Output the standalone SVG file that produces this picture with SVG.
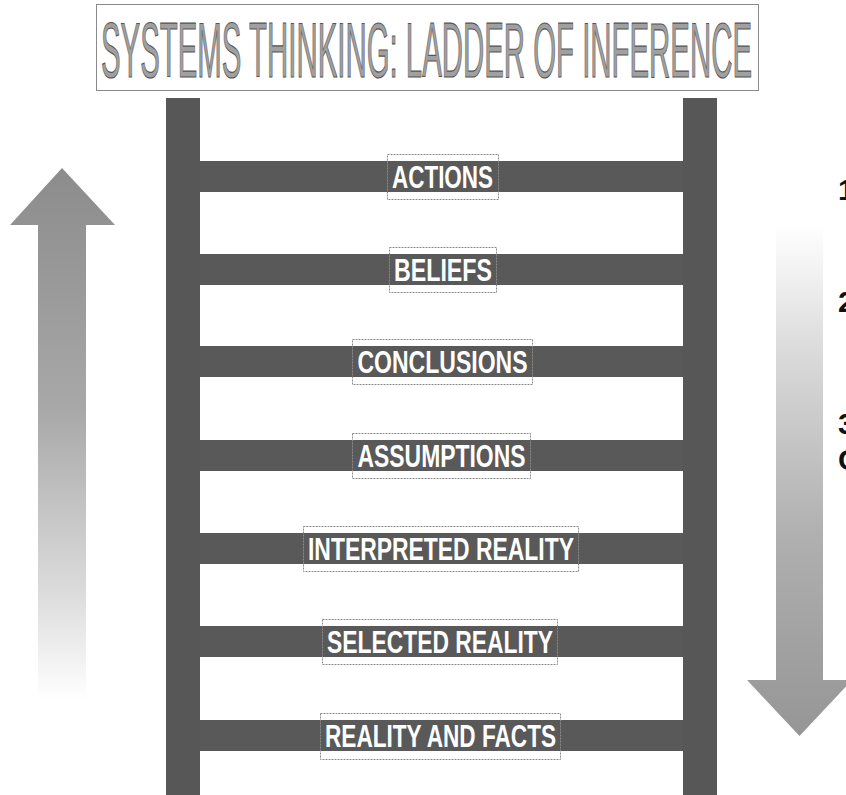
<svg xmlns="http://www.w3.org/2000/svg" width="846" height="795" viewBox="0 0 846 795">
  <defs>
    <linearGradient id="upGrad" gradientUnits="userSpaceOnUse" x1="0" y1="170" x2="0" y2="700">
      <stop offset="0" stop-color="#8c8c8c"/>
      <stop offset="0.45" stop-color="#a8a8a8"/>
      <stop offset="0.8" stop-color="#dcdcdc"/>
      <stop offset="1" stop-color="#ffffff"/>
    </linearGradient>
    <linearGradient id="downGrad" gradientUnits="userSpaceOnUse" x1="0" y1="225" x2="0" y2="740">
      <stop offset="0" stop-color="#ffffff"/>
      <stop offset="0.25" stop-color="#dadada"/>
      <stop offset="0.6" stop-color="#b0b0b0"/>
      <stop offset="1" stop-color="#959595"/>
    </linearGradient>
    <style>
      .rail { fill: #575757; }
      .rung { fill: #595959; }
      .lblbox { fill: none; stroke: #8a8a8a; stroke-width: 1; stroke-dasharray: 2 1; }
      .lbl { font-family: "Liberation Sans Narrow", "Liberation Sans", Arial, sans-serif; font-weight: bold; font-size: 32px; fill: #ffffff; text-anchor: middle; }
      .title { font-family: "Liberation Sans Narrow", "Liberation Sans", Arial, sans-serif; font-size: 78px; fill: #a0a0a0; stroke: #555555; stroke-width: 1.2; }
      .edge { font-family: "Liberation Sans", Arial, sans-serif; font-weight: bold; font-size: 30px; fill: #111111; }
    </style>
  </defs>
  <rect width="846" height="795" fill="#ffffff"/>

  <g id="title">
    <rect x="96.5" y="4.5" width="662" height="86" fill="#ffffff" stroke="#8a8a8a" stroke-width="1"/>
    <text class="title" x="101" y="77" textLength="651" lengthAdjust="spacingAndGlyphs">SYSTEMS THINKING: LADDER OF INFERENCE</text>
  </g>

  <g id="arrow-up">
    <path d="M62,168 L115,225 L86,225 L86,698 L38,698 L38,225 L10,225 Z" fill="url(#upGrad)"/>
  </g>
  <g id="arrow-down">
    <path d="M776,226 L823,226 L823,680 L852,680 L799.5,736 L747,680 L776,680 Z" fill="url(#downGrad)"/>
  </g>

  <g id="ladder">
    <rect class="rail" x="166" y="98" width="34" height="697"/>
    <rect class="rail" x="683" y="98" width="34" height="697"/>
    <rect class="rung" x="200" y="161" width="483" height="31"/>
    <rect class="rung" x="200" y="254" width="483" height="31"/>
    <rect class="rung" x="200" y="346" width="483" height="31"/>
    <rect class="rung" x="200" y="440" width="483" height="31"/>
    <rect class="rung" x="200" y="533" width="483" height="31"/>
    <rect class="rung" x="200" y="626" width="483" height="31"/>
    <rect class="rung" x="200" y="720" width="483" height="31"/>
  </g>

  <g id="actions">
    <rect class="lblbox" x="387.5" y="154.5" width="111" height="45"/>
    <text class="lbl" x="442.5" y="188" textLength="101" lengthAdjust="spacingAndGlyphs">ACTIONS</text>
  </g>
  <g id="beliefs">
    <rect class="lblbox" x="389.5" y="247.5" width="107" height="45"/>
    <text class="lbl" x="443" y="281" textLength="98" lengthAdjust="spacingAndGlyphs">BELIEFS</text>
  </g>
  <g id="conclusions">
    <rect class="lblbox" x="352.5" y="339.5" width="180" height="45"/>
    <text class="lbl" x="442.5" y="373" textLength="170" lengthAdjust="spacingAndGlyphs">CONCLUSIONS</text>
  </g>
  <g id="assumptions">
    <rect class="lblbox" x="352.5" y="433.5" width="178" height="45"/>
    <text class="lbl" x="441.5" y="467" textLength="168" lengthAdjust="spacingAndGlyphs">ASSUMPTIONS</text>
  </g>
  <g id="interpreted-reality">
    <rect class="lblbox" x="303.5" y="526.5" width="275" height="45"/>
    <text class="lbl" x="441" y="560" textLength="266" lengthAdjust="spacingAndGlyphs">INTERPRETED REALITY</text>
  </g>
  <g id="selected-reality">
    <rect class="lblbox" x="322.5" y="619.5" width="235" height="45"/>
    <text class="lbl" x="440" y="653" textLength="226" lengthAdjust="spacingAndGlyphs">SELECTED REALITY</text>
  </g>
  <g id="reality-and-facts">
    <rect class="lblbox" x="320.5" y="713.5" width="240" height="46"/>
    <text class="lbl" x="440.5" y="747" textLength="231" lengthAdjust="spacingAndGlyphs">REALITY AND FACTS</text>
  </g>

  <g id="edge-text">
    <text class="edge" x="838" y="200">1</text>
    <text class="edge" x="838" y="312">2</text>
    <text class="edge" x="838" y="434">3</text>
    <text class="edge" x="838" y="470">C</text>
  </g>
</svg>
